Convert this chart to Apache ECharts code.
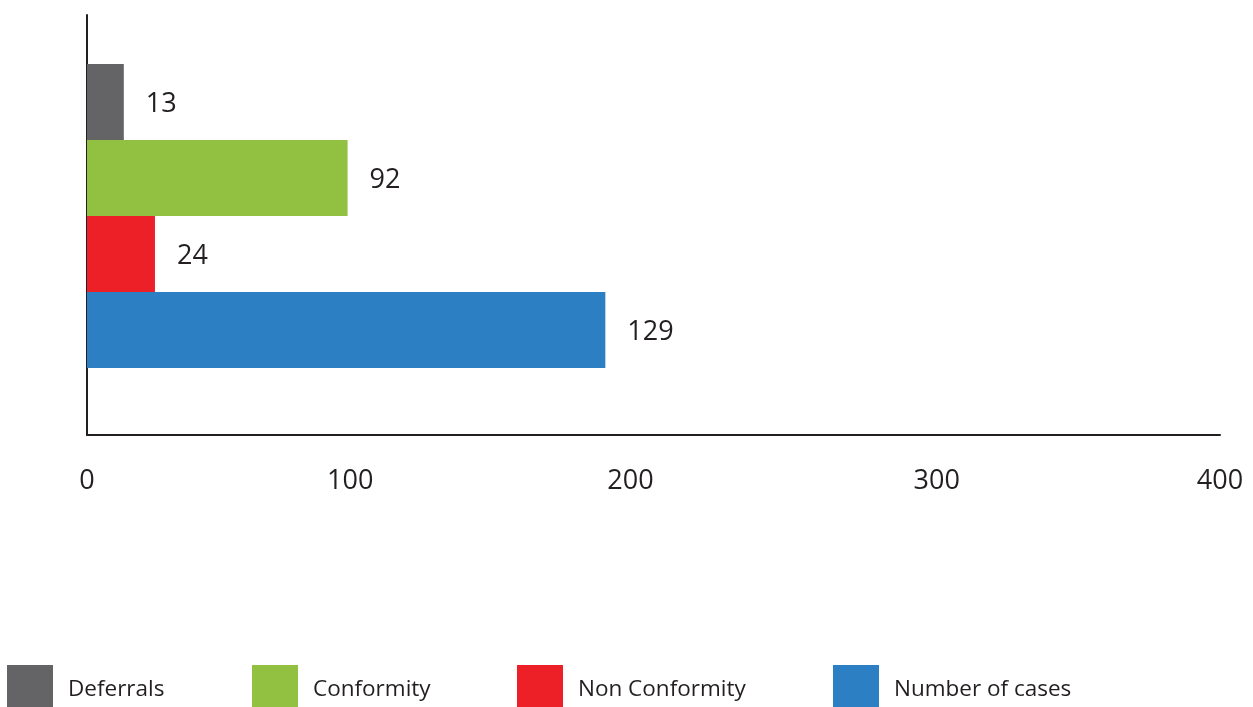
<!DOCTYPE html>
<html>
<head>
<meta charset="utf-8">
<script src="https://cdn.jsdelivr.net/npm/echarts@6/dist/echarts.min.js"></script>
<style>
  html, body { margin: 0; padding: 0; background: #ffffff; }
  #chart { width: 1253px; height: 707px; }
</style>
</head>
<body>
<div id="chart"></div>
<script>
// ---- data ----
var categories = ['Deferrals', 'Conformity', 'Non Conformity', 'Number of cases'];
// bar lengths as drawn against the 0-400 axis
var barValues = [13, 92, 24, 183];
// numbers printed beside each bar in the reference
var valueLabels = ['13', '92', '24', '129'];
var tickValues = [0, 100, 200, 300, 400];
var colors = ['#646466', '#92c142', '#ee2027', '#2d7fc3'];

var FONT = '"Open Sans", "Noto Sans", sans-serif';
var TEXT = '#231f20';

// small left-shift of some tick labels, as in the reference
var tickShift = { 100: 40, 200: 46 };

var series = categories.map(function (name, i) {
  var data = categories.map(function (c, j) { return j === i ? barValues[i] : '-'; });
  return {
    name: name,
    type: 'bar',
    xAxisIndex: 1,
    yAxisIndex: 1,
    stack: 'all',
    barWidth: '100%',
    itemStyle: { color: colors[i] },
    label: {
      show: true,
      position: 'right',
      distance: 22,
      offset: [0, 2],
      color: TEXT,
      fontFamily: FONT,
      fontSize: 27,
      formatter: function () { return valueLabels[i]; }
    },
    data: data
  };
});

var legendLefts = [7, 252, 517, 833];
var legends = categories.map(function (name, i) {
  return {
    data: [name],
    left: legendLefts[i],
    top: 665,
    padding: 0,
    orient: 'horizontal',
    icon: 'rect',
    itemWidth: 46,
    itemHeight: 42,
    selectedMode: false,
    formatter: function (n) { return '{t|' + n + '}'; },
    textStyle: {
      color: TEXT,
      fontFamily: FONT,
      fontSize: 22.5,
      rich: {
        t: { color: TEXT, fontFamily: FONT, fontSize: 22.5, padding: [8, 0, 0, 10] }
      }
    }
  };
});

var option = {
  backgroundColor: '#ffffff',
  animation: false,
  legend: legends,
  grid: [
    { left: 87, right: 33, top: 15, bottom: 272, containLabel: false },
    { left: 87, right: 33, top: 64, bottom: 339, containLabel: false }
  ],
  xAxis: [
    {
      type: 'value',
      gridIndex: 0,
      min: tickValues[0],
      max: tickValues[tickValues.length - 1],
      interval: 100,
      axisLine: { show: true, lineStyle: { color: TEXT, width: 2 } },
      axisTick: { show: false },
      splitLine: { show: false },
      axisLabel: {
        margin: 33,
        color: TEXT,
        fontFamily: FONT,
        fontSize: 27,
        formatter: function (v) {
          return tickShift[v] ? '{s' + v + '|' + v + '}' : String(v);
        },
        rich: {
          s100: { padding: [0, tickShift[100], 0, 0], color: TEXT, fontFamily: FONT, fontSize: 27 },
          s200: { padding: [0, tickShift[200], 0, 0], color: TEXT, fontFamily: FONT, fontSize: 27 }
        }
      }
    },
    {
      type: 'value',
      gridIndex: 1,
      min: tickValues[0],
      max: tickValues[tickValues.length - 1],
      show: false
    }
  ],
  yAxis: [
    {
      type: 'value',
      gridIndex: 0,
      min: 0,
      max: 1,
      axisLine: { show: true, lineStyle: { color: TEXT, width: 2 } },
      axisTick: { show: false },
      axisLabel: { show: false },
      splitLine: { show: false }
    },
    {
      type: 'category',
      gridIndex: 1,
      inverse: true,
      data: categories,
      show: false
    }
  ],
  series: series
};

var chart = echarts.init(document.getElementById('chart'), null, { renderer: 'canvas' });
chart.setOption(option);
</script>
</body>
</html>
